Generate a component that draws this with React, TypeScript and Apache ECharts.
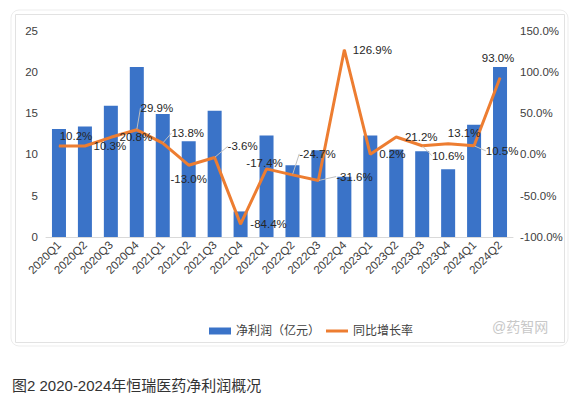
import React, { useEffect, useRef } from "react";
import * as echarts from "echarts";

const categories = [
  "2020Q1", "2020Q2", "2020Q3", "2020Q4",
  "2021Q1", "2021Q2", "2021Q3", "2021Q4",
  "2022Q1", "2022Q2", "2022Q3", "2022Q4",
  "2023Q1", "2023Q2", "2023Q3", "2023Q4",
  "2024Q1", "2024Q2",
];
const netProfit = [13.1, 13.4, 15.9, 20.6, 14.9, 11.6, 15.3, 3.1, 12.3, 8.7, 10.5, 7.3, 12.3, 10.6, 10.4, 8.2, 13.6, 20.6];
const growthRate = [10.2, 10.3, 20.8, 29.9, 13.8, -13.0, -3.6, -84.4, -17.4, -24.7, -31.6, 126.9, 0.2, 21.2, 10.6, 13.1, 10.5, 93.0];
const leftTicks = { min: 0, max: 25, interval: 5 };
const rightTicks = { min: -100, max: 150, interval: 50 };
// label offsets (dx, dy) from each point, and whether a leader line is drawn
const labelOffsets: [number, number][] = [
  [17, -10], [25, 0], [25, 0], [20, -22], [25, -10], [0, 14], [28, -11], [28, 0],
  [-2, -6], [25, -21], [36, -4], [28, 0], [22, 0], [25, 0], [26, 10], [16, -11], [28, 5], [-2, -20],
];
const leaderIdx = [3, 4, 6, 9, 10, 14, 16];

const FONT = "'Liberation Sans', 'Noto Sans CJK SC', sans-serif";

export default function App() {
  const ref = useRef<HTMLDivElement>(null);
  useEffect(() => {
    if (!ref.current) return;
    const chart = echarts.init(ref.current, undefined, { renderer: "svg" });
    const lineData = growthRate.map((v, i) => ({
      value: v,
      labelLine: { show: leaderIdx.includes(i) },
    }));
    chart.setOption({
      animation: false,
      backgroundColor: "#ffffff",
      textStyle: { fontFamily: FONT },
      grid: { left: 46, right: 75, top: 30.7, bottom: 161, containLabel: false },
      legend: {
        left: 204,
        top: 320,
        itemGap: 6,
        itemWidth: 22,
        itemHeight: 7,
        textStyle: { fontSize: 12, color: "#404040", fontFamily: FONT },
        data: [
          { name: "净利润（亿元）", icon: "rect" },
          {
            name: "同比增长率",
            icon: "path://M0,0H22V3H0Z",
            itemStyle: { color: "#ed7d31", opacity: 1 },
          },
        ],
      },
      xAxis: {
        type: "category",
        data: categories,
        axisTick: { show: false },
        axisLine: { lineStyle: { color: "#d9d9d9", width: 1 } },
        axisLabel: { rotate: 45, fontSize: 11.5, color: "#404040", margin: 6, interval: 0 },
      },
      yAxis: [
        {
          type: "value",
          ...leftTicks,
          splitLine: { show: false },
          axisLine: { show: false },
          axisTick: { show: false },
          axisLabel: { fontSize: 11.5, color: "#404040", margin: 8 },
        },
        {
          type: "value",
          ...rightTicks,
          splitLine: { show: false },
          axisLine: { show: false },
          axisTick: { show: false },
          axisLabel: {
            fontSize: 11.5,
            color: "#404040",
            margin: 7,
            formatter: (v: number) => v.toFixed(1) + "%",
          },
        },
      ],
      series: [
        {
          name: "净利润（亿元）",
          type: "bar",
          data: netProfit,
          barWidth: "54%",
          itemStyle: { color: "#3a73c8" },
        },
        {
          name: "同比增长率",
          type: "line",
          yAxisIndex: 1,
          data: lineData,
          symbol: "circle",
          symbolSize: 1,
          showSymbol: true,
          itemStyle: { color: "#ed7d31" },
          lineStyle: { color: "#ed7d31", width: 3 },
          label: {
            show: true,
            position: "inside",
            fontSize: 11.5,
            color: "#262626",
            formatter: (p: any) => Number(p.value).toFixed(1) + "%",
          },
          labelLine: { show: false, lineStyle: { color: "#bfbfbf", width: 1 } },
          labelLayout: (p: any) => ({
            dx: labelOffsets[p.dataIndex][0],
            dy: labelOffsets[p.dataIndex][1],
          }),
          z: 3,
        },
      ],
      graphic: [
        {
          type: "rect",
          shape: { x: 11, y: 10, width: 557, height: 336, r: 8 },
          style: { fill: "none", stroke: "#ededed", lineWidth: 1 },
          silent: true,
        },
        {
          type: "rect",
          shape: { x: 15.5, y: 14.5, width: 549, height: 328 },
          style: { fill: "none", stroke: "#e2e2e2", lineWidth: 1 },
          silent: true,
        },
        {
          type: "text",
          x: 492,
          y: 327,
          style: {
            text: "@药智网",
            fontSize: 14,
            fill: "#c8c8c8",
            fontFamily: FONT,
            verticalAlign: "middle",
          },
          silent: true,
        },
        {
          type: "text",
          x: 12,
          y: 385,
          style: {
            text: "图2 2020-2024年恒瑞医药净利润概况",
            fontSize: 15,
            fill: "#333333",
            fontFamily: FONT,
            verticalAlign: "middle",
          },
          silent: true,
        },
      ],
    });
    return () => chart.dispose();
  }, []);
  return (
    <div
      ref={ref}
      style={{ position: "fixed", left: 0, top: 0, width: 588, height: 398 }}
    />
  );
}
